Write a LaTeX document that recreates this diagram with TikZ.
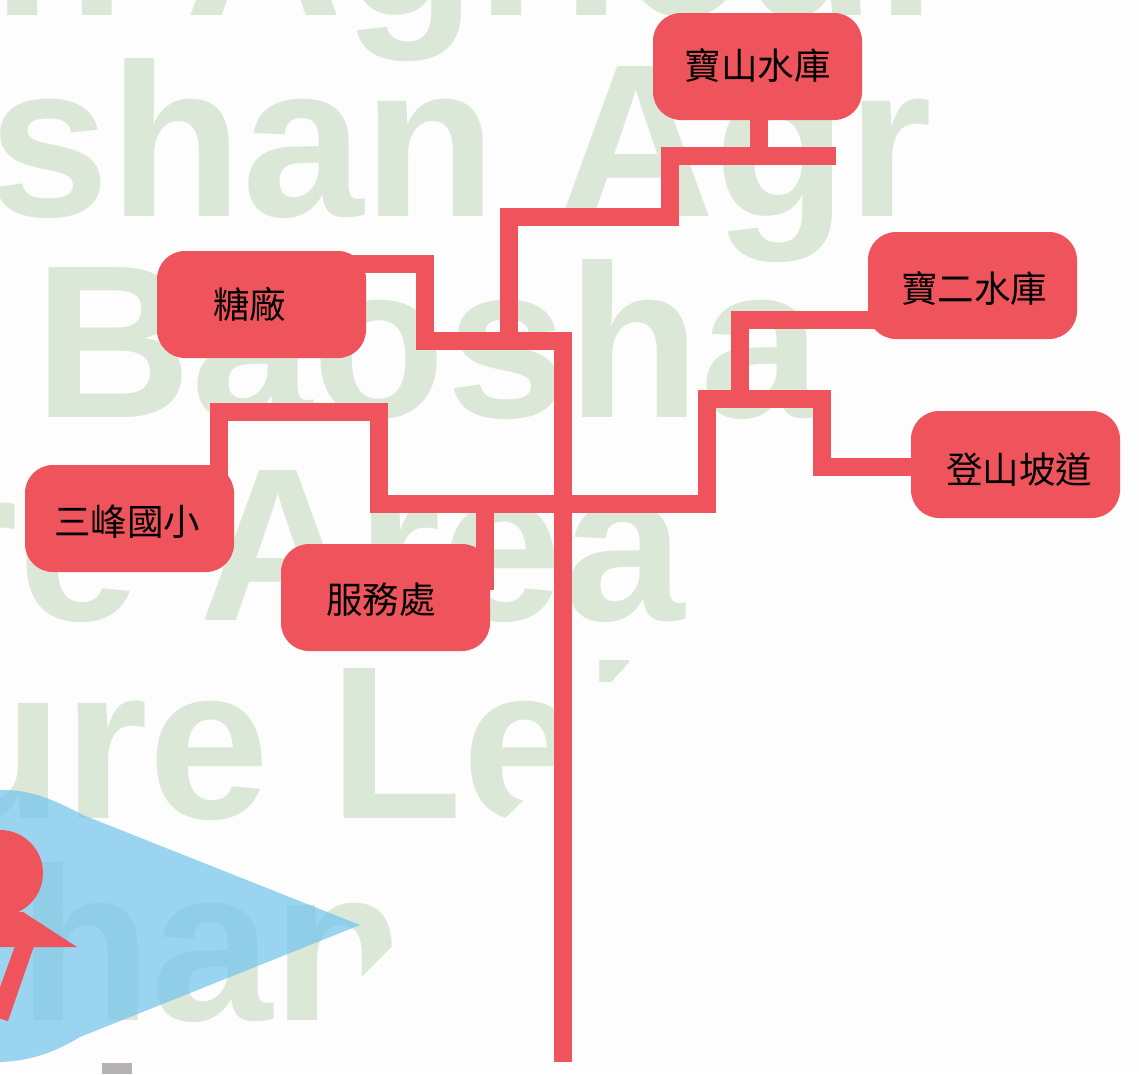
\documentclass[tikz,border=0pt]{standalone}
\usepackage{fontspec}
\newfontfamily\cjk{Noto Sans CJK TC}
\newfontfamily\wm{Liberation Sans}
\definecolor{rd}{HTML}{EF535C}
\definecolor{wmc}{HTML}{DBE8D7}
\definecolor{sky}{HTML}{70C4ED}
\definecolor{pg}{HTML}{FDFDFD}
\definecolor{gr}{HTML}{B7B2B2}
\pgfdeclarelayer{bg}
\pgfdeclarelayer{lines}
\pgfsetlayers{bg,lines,main}
\newcommand{\off}[3]{\raisebox{\dimexpr-13pt-#2\relax}[0pt][0pt]{\makebox[0pt]{\hspace*{\dimexpr2\dimexpr#1\relax\relax}#3}}}
\tikzset{
  x=1pt,y=-1pt,
  place/.style={draw=none,fill=rd,rounded corners=28pt,minimum width=209pt,minimum height=107pt,inner sep=0pt,font=\cjk\fontsize{36.5}{36.5}\selectfont,text=black},
  conn/.style={draw=rd,line width=18pt,line join=miter,line cap=butt},
  wmark/.style={inner sep=0pt,anchor=base west,text=wmc,font=\wm\bfseries\fontsize{218}{218}\selectfont},
}
\begin{document}
\begin{tikzpicture}
\useasboundingbox (0,0) rectangle (1139,1074);
% boxes
\node[place] (shan) at (757.5,66.5) {\off{0pt}{0pt}{寶山水庫}};
\node[place] (er) at (972.5,285.5) {\off{1.5pt}{3.5pt}{寶二水庫}};
\node[place] (tang) at (261.5,304.5) {\off{-12pt}{1pt}{糖廠}};
\node[place] (deng) at (1015.5,464.5) {\off{3.5pt}{6pt}{登山坡道}};
\node[place] (san) at (129.5,518.5) {\off{-2.5pt}{4pt}{三峰國小}};
\node[place] (fu) at (385.5,597.5) {\off{-4.5pt}{3pt}{服務處}};
% junctions
\coordinate (t1) at (425,264);
\coordinate (t2) at (425,341);
\coordinate (t3) at (562.5,341);
\coordinate (bot) at (562.5,1062);
\coordinate (s1) at (509,341);
\coordinate (s2) at (509,217);
\coordinate (s3) at (669.5,217);
\coordinate (s4) at (669.5,155.5);
\coordinate (s5) at (836,155.5);
\coordinate (s6) at (759,155.5);
\coordinate (c1) at (219,411.5);
\coordinate (c2) at (379,411.5);
\coordinate (c3) at (379,504);
\coordinate (c4) at (707,504);
\coordinate (c5) at (707,398.5);
\coordinate (c6) at (821.5,398.5);
\coordinate (c7) at (821.5,467);
\coordinate (e1) at (740,320);
\coordinate (e2) at (740,398.5);
\coordinate (f1) at (485,504);
\coordinate (f2) at (485,590);
\begin{pgfonlayer}{bg}
\fill[pg] (0,0) rectangle (1139,1074);
\begin{scope}
\clip (0,0) rectangle (1139,1074);
\node[wmark] (w0) at (-8,15) {n Agricul};
\node[wmark] (w1) at (-12,216) {shan Agr};
\node[wmark] (w2) at (34,417) {Baosha};
\node[wmark] (w3) at (-67,620) {re Area};
\begin{scope}
\clip (-100,650) -- (554,650) -- (554,768) -- (502,820) -- (502,830) -- (-100,830) -- cycle
      (597,655) -- (635,655) -- (603,690) -- (597,690) -- cycle;
\node[wmark] (w4) at (-70,818) {ure Lei};
\end{scope}
\begin{scope}
\clip (-100,840) -- (497,840) -- (322,1015) -- (322,1030) -- (-100,1030) -- cycle;
\node[wmark] (w5) at (18,1020) {han};
\end{scope}
\fill[sky,opacity=.7] (-5,790) .. controls (25,789) and (45,795) .. (83,815) -- (360,925) -- (80,1037) .. controls (55,1052) and (30,1062) .. (-5,1062) -- cycle;
\fill[rd] (0,873) circle (43);
\fill[rd] (23,912) -- (77,947) -- (-5,947) -- (-5,912) -- cycle;
\fill[rd] (15,946) -- (34,946) -- (8,1021) -- (-5,1017) -- (-5,1001) -- cycle;
\fill[gr] (102,1063) rectangle (132,1074);
\end{scope}
\end{pgfonlayer}
\begin{pgfonlayer}{lines}
\draw[conn] (tang.center |- t1) -- (t1) -- (t2) -- (t3) -- (bot);
\draw[conn] (s1) -- (s2) -- (s3) -- (s4) -- (s5);
\draw[conn] (shan.center -| s6) -- (s6);
\draw[conn] (san.center -| c1) -- (c1) -- (c2) -- (c3) -- (c4) -- (c5) -- (c6) -- (c7) -- (deng.center |- c7);
\draw[conn] (er.center |- e1) -- (e1) -- (e2);
\draw[conn] (f1) -- (f2);
\end{pgfonlayer}
\end{tikzpicture}
\end{document}
